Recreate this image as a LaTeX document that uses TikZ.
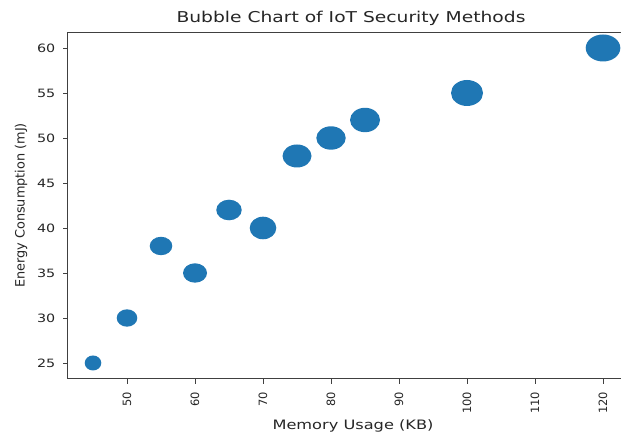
\documentclass[tikz,border=0pt]{standalone}
\usepackage{fontspec}
\setmainfont{DejaVu Sans}
\newfontfamily\plotfont{DejaVu Sans}
\newfontfamily\wideplotfont[FakeStretch=1.25]{DejaVu Sans}
\definecolor{bubbleBlue}{HTML}{1F77B4}
\colorlet{axisGray}{black!75}
\tikzset{
  ticklab/.style={inner sep=0pt, text=black!85, font=\wideplotfont\fontsize{11.5}{12}\selectfont},
  rotlab/.style={inner sep=0pt, text=black!85, rotate=90, font=\plotfont\fontsize{11.5}{12}\selectfont},
}

\begin{document}
\begin{tikzpicture}[x=1bp, y=1bp]
    \useasboundingbox (0,0) rectangle (621,436);
    \clip (0,0) rectangle (621,436);
    \fill[white] (0,0) rectangle (621,436);

    % Titulo y ejes
    \node[anchor=base, text=black!85, font=\wideplotfont\fontsize{15}{16}\selectfont] (title) at (351,413) {Bubble Chart of IoT Security Methods};
    \node[anchor=base, text=black!85, font=\wideplotfont\fontsize{13}{14}\selectfont] (xlabel) at (353,6.5) {Memory Usage (KB)};
    \node[rotate=90, text=black!85, font=\plotfont\fontsize{12.9}{14}\selectfont] (ylabel) at (21,230.5) {Energy Consumption (mJ)};

    \begin{scope}[shift={(-213,-152)}, x=6.8bp, y=9bp]
        % Burbujas
        \foreach \mx/\ey/\rx/\ry in {45/25/8.3bp/7.5bp, 50/30/10.3bp/8.7bp, 55/38/11.3bp/9.2bp,
                60/35/12bp/9.7bp, 65/42/12.7bp/10.3bp, 70/40/13.3bp/11.3bp, 75/48/14.5bp/11.5bp,
                80/50/14.7bp/11.7bp, 85/52/15bp/12.2bp, 100/55/16bp/13bp, 120/60/17.3bp/13.5bp}
            \fill[bubbleBlue] (\mx,\ey) ellipse [x radius=\rx, y radius=\ry];

        % Marco
        \draw[axisGray, line width=0.9bp] (41.25,23.25) rectangle (123.75,61.75);

        % Marcas del eje x
        \foreach \t in {50,60,...,120} {
            \draw[axisGray, line width=0.9bp] (\t,23.25) -- ++(0,-5bp);
            \path (\t,23.25) ++(0,-13bp) node[rotlab, anchor=east] (xt\t) {\t};
        }

        % Marcas del eje y
        \foreach \t in {25,30,...,60} {
            \draw[axisGray, line width=0.9bp] (41.25,\t) -- ++(-5bp,0);
            \node[ticklab, anchor=east, xshift=-12bp] (yt\t) at (41.25,\t) {\t};
        }
    \end{scope}
\end{tikzpicture}
\end{document}
